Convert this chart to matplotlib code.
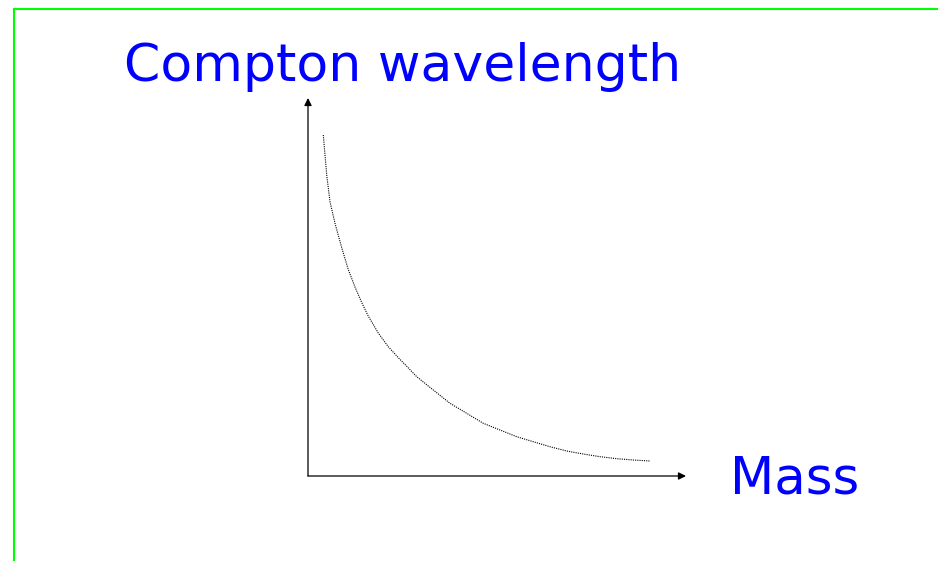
import matplotlib.pyplot as plt
from matplotlib.lines import Line2D

# --- dados (unidades arbitrárias, eixos de 0 a 10) ---
massa = [0.405, 0.495, 0.582, 0.714, 0.892, 1.066, 1.243, 1.421, 1.595,
         1.860, 2.124, 2.389, 2.653, 2.876, 3.315, 3.757, 4.198, 4.638,
         5.079, 5.521, 5.960, 6.402, 6.844, 7.283, 7.725, 8.167, 8.606,
         9.048]
comprimento_onda = [9.021, 7.963, 7.257, 6.685, 6.040, 5.460, 5.000, 4.590,
                    4.230, 3.780, 3.420, 3.130, 2.860, 2.627, 2.275, 1.923,
                    1.659, 1.394, 1.217, 1.040, 0.907, 0.775, 0.661, 0.582,
                    0.511, 0.458, 0.423, 0.397]

titulo_y = 'Compton wavelength'
titulo_x = 'Mass'

AZUL = '#0000ff'
VERDE = '#00ff00'

fig = plt.figure(figsize=(9.38, 5.61), dpi=100)

# moldura verde (só o topo e o lado esquerdo aparecem)
fig.add_artist(Line2D([14 / 938, 1.0], [1 - 9 / 561, 1 - 9 / 561],
                      transform=fig.transFigure, color=VERDE, lw=1.5))
fig.add_artist(Line2D([14 / 938, 14 / 938], [0.0, 1 - 9 / 561],
                      transform=fig.transFigure, color=VERDE, lw=1.5))

ax = fig.add_axes([308 / 938, 85 / 561, 378 / 938, 378 / 561])
ax.set_xlim(0, 10)
ax.set_ylim(0, 10)
ax.axis('off')

# eixos com setas
seta = dict(arrowstyle='-|>', color='black', lw=0.9, mutation_scale=11,
            shrinkA=0, shrinkB=0)
ax.annotate('', xy=(10, 0), xytext=(0, 0), arrowprops=seta)
ax.annotate('', xy=(0, 10), xytext=(0, 0), arrowprops=seta)

ax.plot(massa, comprimento_onda, color='black', lw=0.8, linestyle=(0, (1, 1)))

fig.text(124 / 938, 1 - 81 / 561, titulo_y, color=AZUL, fontsize=37.5,
         ha='left', va='baseline')
fig.text(730 / 938, 1 - 493 / 561, titulo_x, color=AZUL, fontsize=37,
         ha='left', va='baseline')

fig.savefig('out.png', dpi=100)
